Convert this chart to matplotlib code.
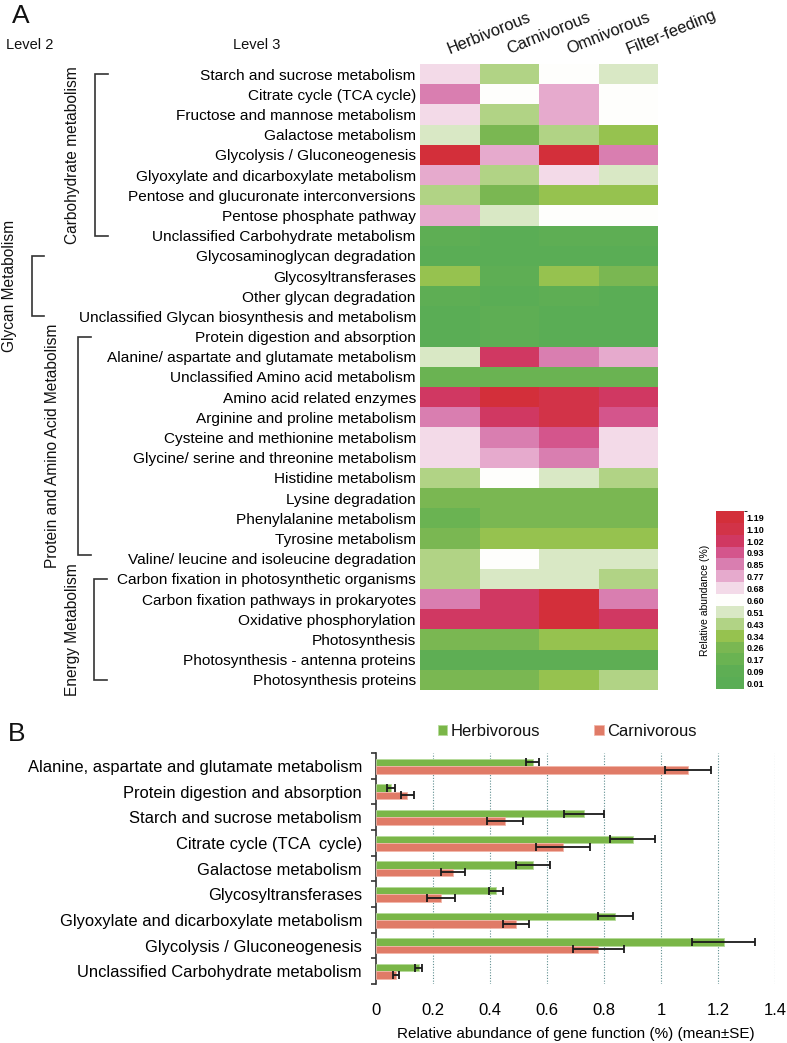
import numpy as np
import matplotlib
matplotlib.use('Agg')
import matplotlib.pyplot as plt
from matplotlib.colors import ListedColormap, BoundaryNorm
from matplotlib import font_manager
import matplotlib.transforms as mtrans

# ---------------- data: panel A ----------------
groups = ['Herbivorous', 'Carnivorous', 'Omnivorous', 'Filter-feeding']
level3 = [
    'Starch and sucrose metabolism', 'Citrate cycle (TCA cycle)', 'Fructose and mannose metabolism',
    'Galactose metabolism', 'Glycolysis / Gluconeogenesis', 'Glyoxylate and dicarboxylate metabolism',
    'Pentose and glucuronate interconversions', 'Pentose phosphate pathway',
    'Unclassified Carbohydrate metabolism', 'Glycosaminoglycan degradation', 'Glycosyltransferases',
    'Other glycan degradation', 'Unclassified Glycan biosynthesis and metabolism',
    'Protein digestion and absorption', 'Alanine/ aspartate and glutamate metabolism',
    'Unclassified Amino acid metabolism', 'Amino acid related enzymes', 'Arginine and proline metabolism',
    'Cysteine and methionine metabolism', 'Glycine/ serine and threonine metabolism',
    'Histidine metabolism', 'Lysine degradation', 'Phenylalanine metabolism', 'Tyrosine metabolism',
    'Valine/ leucine and isoleucine degradation', 'Carbon fixation in photosynthetic organisms',
    'Carbon fixation pathways in prokaryotes', 'Oxidative phosphorylation', 'Photosynthesis',
    'Photosynthesis - antenna proteins', 'Photosynthesis proteins']
herbivorous = [0.72, 0.89, 0.72, 0.55, 1.23, 0.81, 0.47, 0.81, 0.13, 0.05, 0.38, 0.13, 0.05, 0.05, 0.55,
               0.21, 1.06, 0.89, 0.72, 0.72, 0.47, 0.30, 0.21, 0.30, 0.47, 0.47, 0.89, 1.06, 0.30, 0.13, 0.30]
carnivorous = [0.47, 0.64, 0.47, 0.30, 0.81, 0.47, 0.30, 0.55, 0.05, 0.05, 0.13, 0.05, 0.13, 0.13, 1.06,
               0.21, 1.23, 1.06, 0.89, 0.81, 0.64, 0.30, 0.30, 0.38, 0.64, 0.55, 1.06, 1.06, 0.30, 0.13, 0.30]
omnivorous = [0.64, 0.81, 0.81, 0.47, 1.23, 0.72, 0.38, 0.64, 0.13, 0.05, 0.38, 0.13, 0.05, 0.05, 0.89,
              0.21, 1.14, 1.14, 0.97, 0.89, 0.55, 0.30, 0.30, 0.38, 0.55, 0.55, 1.23, 1.23, 0.38, 0.13, 0.38]
filter_feeding = [0.55, 0.64, 0.64, 0.38, 0.89, 0.55, 0.38, 0.64, 0.13, 0.05, 0.30, 0.05, 0.05, 0.05, 0.81,
                  0.21, 1.06, 0.97, 0.72, 0.72, 0.47, 0.30, 0.30, 0.38, 0.55, 0.47, 0.89, 1.06, 0.38, 0.13, 0.47]
level2 = ['Carbohydrate metabolism', 'Glycan Metabolism', 'Protein and Amino Acid Metabolism', 'Energy Metabolism']
level2_first = [0, 9, 13, 25]
level2_last = [8, 12, 24, 30]
cbar_bounds = [0.01, 0.09, 0.17, 0.26, 0.34, 0.43, 0.51, 0.60, 0.68, 0.77, 0.85, 0.93, 1.02, 1.10, 1.19, 1.28]
cbar_colors = ['#5AAD55', '#5EAE54', '#6AB352', '#7AB752', '#96C24F', '#B1D385', '#D9E8C5', '#FEFEFC',
               '#F3DAE8', '#E6AACD', '#D97EB0', '#D4558C', '#D03862', '#D23348', '#D32F3A']

# ---------------- data: panel B ----------------
functions = ['Alanine, aspartate and glutamate metabolism', 'Protein digestion and absorption',
             'Starch and sucrose metabolism', 'Citrate cycle (TCA  cycle)', 'Galactose metabolism',
             'Glycosyltransferases', 'Glyoxylate and dicarboxylate metabolism',
             'Glycolysis / Gluconeogenesis', 'Unclassified Carbohydrate metabolism']
herb_mean = [0.55, 0.053, 0.73, 0.90, 0.55, 0.42, 0.84, 1.22, 0.15]
herb_se = [0.022, 0.013, 0.07, 0.08, 0.06, 0.024, 0.06, 0.11, 0.012]
carn_mean = [1.095, 0.11, 0.453, 0.655, 0.27, 0.228, 0.49, 0.78, 0.07]
carn_se = [0.08, 0.023, 0.063, 0.095, 0.042, 0.05, 0.046, 0.09, 0.012]
xticks_b = [0, 0.2, 0.4, 0.6, 0.8, 1, 1.2, 1.4]
xticklabels_b = ['0', '0.2', '0.4', '0.6', '0.8', '1', '1.2', '1.4']

# ---------------- fonts ----------------
names = {f.name for f in font_manager.fontManager.ttflist}
base = 'Liberation Sans' if 'Liberation Sans' in names else 'DejaVu Sans'
plt.rcParams['font.family'] = [base, 'DejaVu Sans']
plt.rcParams['text.color'] = '#111111'

W, H = 787, 1043
fig = plt.figure(figsize=(W / 100, H / 100), dpi=100)

def fx(px):
    return px / W

def fy(py):
    return 1 - py / H

# ---------------- panel A heatmap ----------------
hm_l, hm_r, hm_t, hm_b = 420, 658, 64, 690
ax = fig.add_axes([fx(hm_l), fy(hm_b), fx(hm_r - hm_l), (hm_b - hm_t) / H])
data = np.array([herbivorous, carnivorous, omnivorous, filter_feeding]).T
cmap = ListedColormap(cbar_colors)
norm = BoundaryNorm(cbar_bounds, cmap.N)
mesh = ax.pcolormesh(np.arange(len(groups) + 1), np.arange(len(level3) + 1), data, cmap=cmap, norm=norm)
ax.set_xlim(0, len(groups))
ax.set_ylim(len(level3), 0)
for s in ax.spines.values():
    s.set_visible(False)
ax.set_xticks([])
ax.set_yticks(np.arange(len(level3)) + 0.5)
ax.set_yticklabels(level3, fontsize=11.1)
ax.tick_params(axis='y', length=0, pad=3)

for i, g in enumerate(groups):
    ax.text(i + 0.52, -0.35, g, rotation=22, rotation_mode='anchor', ha='left', va='bottom',
            fontsize=11.8)

# brackets
tr = mtrans.blended_transform_factory(fig.transFigure, ax.transData)
br_x = [95, 32, 78, 94]
br_tick = [13, 12, 13, 13]
lab_x = [73, 10, 53, 73]
last_adj = [0, 0, -0.2, 0]
for name, a, b, bx, bt, lx, adj in zip(level2, level2_first, level2_last, br_x, br_tick, lab_x, last_adj):
    y0 = a + 0.5
    y1 = b + 0.5 + adj
    ax.plot([fx(bx + bt), fx(bx), fx(bx), fx(bx + bt)], [y0, y0, y1, y1], transform=tr,
            color='#333333', lw=1.2, clip_on=False, solid_joinstyle='miter')
    ax.text(fx(lx), (y0 + y1) / 2, name, transform=tr, rotation=90, ha='center', va='center', fontsize=11.2)

fig.text(fx(12), fy(16), 'A', fontsize=19, ha='left', va='center')
fig.text(fx(6), fy(45), 'Level 2', fontsize=10.5, ha='left', va='center')
fig.text(fx(233), fy(45), 'Level 3', fontsize=10.5, ha='left', va='center')

# colorbar
cax = fig.add_axes([fx(716), fy(689), fx(28), (689 - 511) / H])
cb = fig.colorbar(mesh, cax=cax, boundaries=cbar_bounds, ticks=cbar_bounds[:-1], drawedges=False)
cb.outline.set_visible(False)
cb.ax.tick_params(length=0, pad=2)
cb.ax.set_yticklabels(['%.2f' % v for v in cbar_bounds[:-1]], fontsize=6.5, fontweight='bold', va='bottom')
cb.ax.yaxis.set_label_position('left')
cb.set_label('Relative abundance (%)', fontsize=7.5, labelpad=4)

# ---------------- panel B ----------------
axb = fig.add_axes([fx(376), fy(984), fx(775 - 376), (984 - 753) / H])
n = len(functions)
pos = np.arange(n) + 0.51
bh = 0.29
green = '#7AB648'
salmon = '#E07B67'
ekw = dict(ecolor='#1a1a1a', elinewidth=1.3, capsize=2.6, capthick=1.3)
axb.barh(pos - bh / 2, herb_mean, height=bh, color=green, edgecolor='#B5DA9A', linewidth=0.6,
         xerr=herb_se, error_kw=ekw, label='Herbivorous', zorder=3)
axb.barh(pos + bh / 2, carn_mean, height=bh, color=salmon, edgecolor='#F2B7AA', linewidth=0.6,
         xerr=carn_se, error_kw=ekw, label='Carnivorous', zorder=3)
axb.set_xlim(0, 1.4)
axb.set_ylim(n, 0)
for x in xticks_b[1:]:
    axb.axvline(x, color='#5F8F90', lw=0.8, ls=(0, (1, 1.5)), zorder=1)
axb.set_xticks(xticks_b)
axb.set_xticklabels(xticklabels_b, fontsize=12)
axb.tick_params(axis='x', length=0, pad=14)
axb.set_yticks(np.arange(n + 1))
axb.set_yticklabels([])
axb.set_yticks(pos, minor=True)
axb.set_yticklabels(functions, minor=True, fontsize=11.9)
axb.tick_params(axis='y', which='major', length=3.5, width=1.2, direction='out', color='#333333')
axb.tick_params(axis='y', which='minor', length=0, pad=10)
for s in ['top', 'right', 'bottom']:
    axb.spines[s].set_visible(False)
axb.spines['left'].set_linewidth(1.2)
axb.spines['left'].set_color('#333333')
axb.set_xlabel('Relative abundance of gene function (%) (mean\u00b1SE)', fontsize=11, labelpad=6)
axb.legend(loc='center left', bbox_to_anchor=(fx(438), fy(731)), bbox_transform=fig.transFigure,
           ncol=2, frameon=False, prop={'size': 11.9}, borderpad=0, borderaxespad=0,
           handlelength=0.55, handleheight=0.55, handletextpad=0.2, columnspacing=3.3)

fig.text(fx(8), fy(734), 'B', fontsize=19, ha='left', va='center')

fig.savefig('out.png', dpi=100)
